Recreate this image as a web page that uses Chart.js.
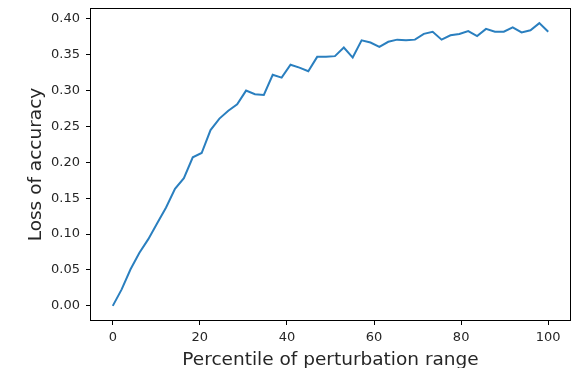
<!doctype html>
<html>
<head>
<meta charset="UTF-8">
<title>Loss of accuracy</title>
<script src="https://cdn.jsdelivr.net/npm/chart.js@4.4.0/dist/chart.umd.min.js"></script>
<style>
  body { margin: 0; background: #fff; }
  canvas { display: block; }
</style>
</head>
<body>
<canvas id="myChart" width="578" height="368"></canvas>
<script>
// percentile positions (50 evenly spaced samples from 0 to 100)
var percentiles = [
  0, 2.04, 4.08, 6.12, 8.16, 10.2, 12.24, 14.29, 16.33, 18.37,
  20.41, 22.45, 24.49, 26.53, 28.57, 30.61, 32.65, 34.69, 36.73, 38.78,
  40.82, 42.86, 44.9, 46.94, 48.98, 51.02, 53.06, 55.1, 57.14, 59.18,
  61.22, 63.27, 65.31, 67.35, 69.39, 71.43, 73.47, 75.51, 77.55, 79.59,
  81.63, 83.67, 85.71, 87.76, 89.8, 91.84, 93.88, 95.92, 97.96, 100
];
var lossValues = [
  0.000, 0.023, 0.051, 0.074, 0.093, 0.115, 0.137, 0.163, 0.178, 0.207,
  0.213, 0.245, 0.261, 0.272, 0.281, 0.300, 0.295, 0.294, 0.322, 0.318,
  0.336, 0.332, 0.327, 0.347, 0.347, 0.348, 0.360, 0.346, 0.370, 0.367,
  0.361, 0.368, 0.371, 0.370, 0.371, 0.379, 0.382, 0.371, 0.377, 0.379,
  0.383, 0.376, 0.386, 0.382, 0.382, 0.388, 0.381, 0.384, 0.394, 0.382
];
var xTicks = [0, 20, 40, 60, 80, 100];
var yTicks = [0, 0.05, 0.10, 0.15, 0.20, 0.25, 0.30, 0.35, 0.40];

var FONT = "'DejaVu Sans', sans-serif";
var INK = '#262626';

var points = [];
for (var i = 0; i < percentiles.length; i++) {
  points.push({ x: percentiles[i], y: lossValues[i] });
}

// box around the plot area, like a matplotlib axes frame
var framePlugin = {
  id: 'frame',
  afterDraw: function(chart) {
    var a = chart.chartArea;
    var ctx = chart.ctx;
    ctx.save();
    ctx.strokeStyle = '#000';
    ctx.lineWidth = 1;
    ctx.strokeRect(a.left - 0.5, a.top - 0.5, a.right - a.left + 1, a.bottom - a.top + 1);
    ctx.restore();
  }
};

var ctx = document.getElementById('myChart').getContext('2d');
var myChart = new Chart(ctx, {
  type: 'line',
  data: {
    datasets: [{
      data: points,
      borderColor: '#2a7fbf',
      backgroundColor: 'rgba(0,0,0,0)',
      borderWidth: 2,
      pointRadius: 0,
      tension: 0
    }]
  },
  options: {
    responsive: false,
    animation: false,
    devicePixelRatio: 1,
    layout: { padding: { left: 0, top: 9, right: 8, bottom: 0 } },
    plugins: { legend: { display: false }, tooltip: { enabled: false } },
    scales: {
      x: {
        type: 'linear',
        min: -5,
        max: 105,
        afterBuildTicks: function(scale) {
          scale.ticks = xTicks.map(function(v) { return { value: v }; });
        },
        afterFit: function(scale) {
          scale.height = 48;
          scale.paddingLeft = 0;
          scale.paddingRight = 0;
        },
        border: { display: false },
        grid: { drawOnChartArea: false, drawTicks: true, tickLength: 5, color: '#000', tickWidth: 1 },
        ticks: {
          padding: 5,
          maxRotation: 0,
          autoSkip: false,
          color: INK,
          font: { family: FONT, size: 13 },
          callback: function(v) { return String(v); }
        },
        title: {
          display: true,
          text: 'Percentile of perturbation range',
          color: INK,
          font: { family: FONT, size: 18.5, lineHeight: 0.8 },
          padding: 0
        }
      },
      y: {
        min: -0.0197,
        max: 0.4137,
        afterBuildTicks: function(scale) {
          scale.ticks = yTicks.map(function(v) { return { value: v }; });
        },
        afterFit: function(scale) {
          scale.width = 91;
          scale.paddingTop = 0;
          scale.paddingBottom = 0;
        },
        border: { display: false },
        grid: { drawOnChartArea: false, drawTicks: true, tickLength: 5, color: '#000', tickWidth: 1 },
        ticks: {
          padding: 6,
          autoSkip: false,
          color: INK,
          font: { family: FONT, size: 13 },
          callback: function(v) { return v.toFixed(2); }
        },
        title: {
          display: true,
          text: 'Loss of accuracy',
          color: INK,
          font: { family: FONT, size: 18.5, lineHeight: 0.8 },
          padding: { top: 29, bottom: 0 }
        }
      }
    }
  },
  plugins: [framePlugin]
});
</script>
</body>
</html>
